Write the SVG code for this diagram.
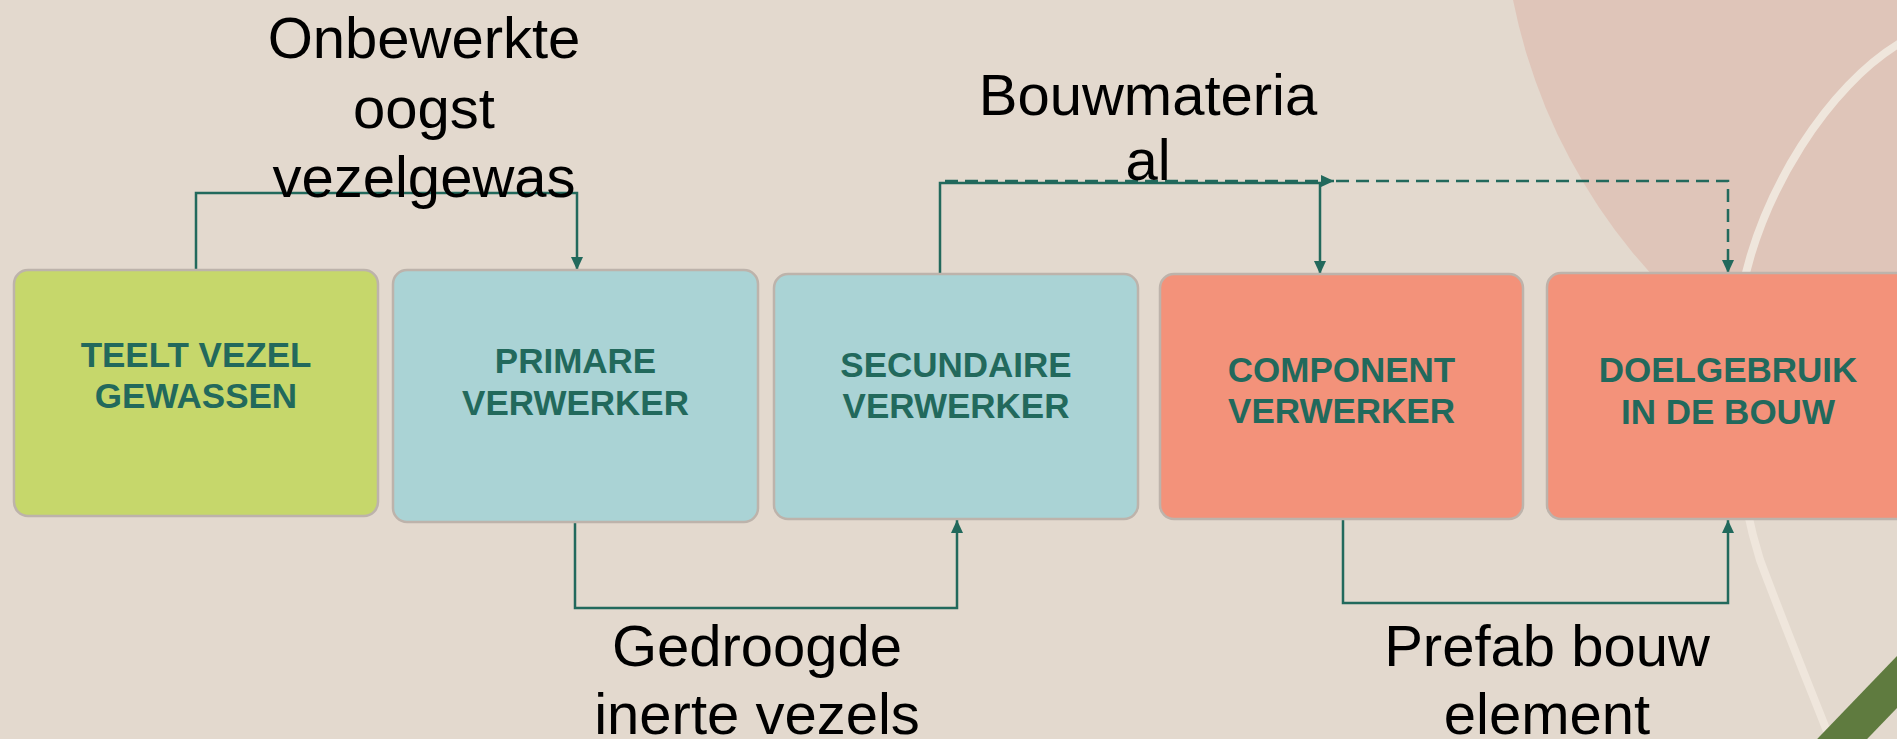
<svg xmlns="http://www.w3.org/2000/svg" width="1897" height="739" viewBox="0 0 1897 739">
<defs>
<style>
.box{stroke:#bdb3ab;stroke-width:2.5}
.t{font-family:"Liberation Sans",Arial,sans-serif;font-weight:bold;font-size:35px;fill:#22695c;text-anchor:middle}
.lbl{font-family:"Liberation Sans",Arial,sans-serif;font-size:58px;fill:#000;text-anchor:middle}
.c{fill:none;stroke:#22695c;stroke-width:2.5}
.d{fill:none;stroke:#22695c;stroke-width:2.5;stroke-dasharray:13 7}
</style>
<marker id="ah" markerUnits="userSpaceOnUse" markerWidth="14" markerHeight="12" refX="13" refY="6" orient="auto">
<path d="M0,0 L13,6 L0,12 z" fill="#22695c"/>
</marker>
</defs>
<rect width="1897" height="739" fill="#e3d9ce"/>
<circle cx="2076" cy="-112" r="574" fill="#dfc5b9"/>
<path d="M1900,43 C1830,85 1760,190 1740,300 C1728,380 1735,480 1760,560 C1790,640 1815,700 1830,739" fill="none" stroke="#efe6dc" stroke-width="8"/>
<path d="M1820,762 L1924,654" stroke="#5f7b3f" stroke-width="36"/>

<g id="connectors">
<path class="c" d="M196,270 V193 H577 V270" marker-end="url(#ah)"/>
<path class="c" d="M575,522 V608 H957 V520" marker-end="url(#ah)"/>
<path class="c" d="M940,276 V183 H1320 V274" marker-end="url(#ah)"/>
<path class="d" d="M945,181 H1334" marker-end="url(#ah)"/>
<path class="d" d="M1336,181 H1728 V273" marker-end="url(#ah)"/>
<path class="c" d="M1343,520 V603 H1728 V520" marker-end="url(#ah)"/>
</g>

<g id="n1"><rect class="box" x="14" y="270" width="364" height="246" rx="14" fill="#c6d76b"/>
<text class="t" x="196" y="367">TEELT VEZEL</text><text class="t" x="196" y="408">GEWASSEN</text></g>
<g id="n2"><rect class="box" x="393" y="270" width="365" height="252" rx="14" fill="#aad3d5"/>
<text class="t" x="575.5" y="373">PRIMARE</text><text class="t" x="575.5" y="415">VERWERKER</text></g>
<g id="n3"><rect class="box" x="774" y="274" width="364" height="245" rx="14" fill="#aad3d5"/>
<text class="t" x="956" y="377">SECUNDAIRE</text><text class="t" x="956" y="418">VERWERKER</text></g>
<g id="n4"><rect class="box" x="1160" y="274" width="363" height="245" rx="14" fill="#f3927a"/>
<text class="t" x="1341.5" y="382">COMPONENT</text><text class="t" x="1341.5" y="423">VERWERKER</text></g>
<g id="n5"><rect class="box" x="1547" y="273" width="364" height="246" rx="14" fill="#f3927a"/>
<text class="t" x="1728" y="382">DOELGEBRUIK</text><text class="t" x="1728" y="424">IN DE BOUW</text></g>

<g id="labels">
<text class="lbl" x="424" y="58">Onbewerkte</text>
<text class="lbl" x="424" y="128">oogst</text>
<text class="lbl" x="424" y="197">vezelgewas</text>
<text class="lbl" x="1148" y="115">Bouwmateria</text>
<text class="lbl" x="1148" y="180">al</text>
<text class="lbl" x="757" y="666">Gedroogde</text>
<text class="lbl" x="757" y="734">inerte vezels</text>
<text class="lbl" x="1547" y="666">Prefab bouw</text>
<text class="lbl" x="1547" y="734">element</text>
</g>
</svg>
